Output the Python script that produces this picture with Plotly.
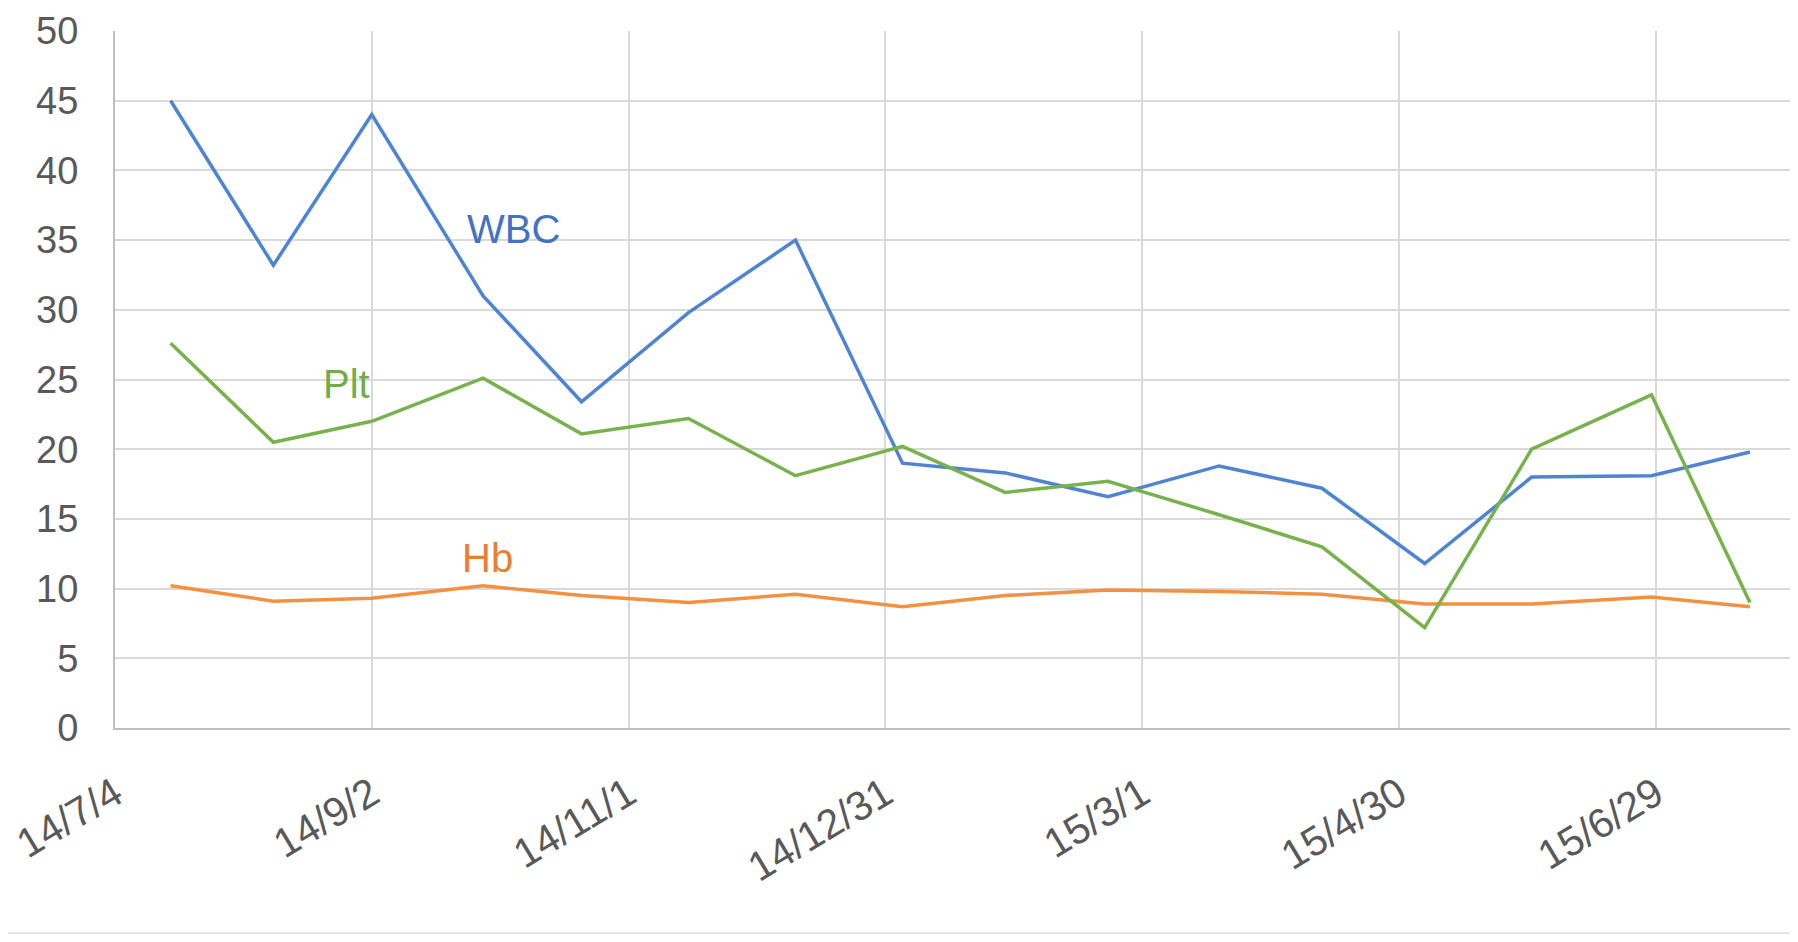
import plotly.graph_objects as go

dates = ["2014-07-17", "2014-08-10", "2014-09-02", "2014-09-28", "2014-10-21",
         "2014-11-15", "2014-12-10", "2015-01-04", "2015-01-28", "2015-02-21",
         "2015-03-19", "2015-04-12", "2015-05-06", "2015-05-31", "2015-06-28",
         "2015-07-21"]
wbc = [45.0, 33.2, 44.0, 31.0, 23.4, 29.8, 35.0, 19.0, 18.3, 16.6, 18.8, 17.2, 11.8, 18.0, 18.1, 19.8]
plt_ = [27.6, 20.5, 22.0, 25.1, 21.1, 22.2, 18.1, 20.2, 16.9, 17.7, 15.3, 13.0, 7.2, 20.0, 23.9, 9.0]
hb = [10.2, 9.1, 9.3, 10.2, 9.5, 9.0, 9.6, 8.7, 9.5, 9.9, 9.8, 9.6, 8.9, 8.9, 9.4, 8.7]

tick_dates = ["2014-07-04", "2014-09-02", "2014-11-01", "2014-12-31",
              "2015-03-01", "2015-04-30", "2015-06-29"]
tick_labels = ["14/7/4", "14/9/2", "14/11/1", "14/12/31", "15/3/1", "15/4/30", "15/6/29"]
y_ticks = [0, 5, 10, 15, 20, 25, 30, 35, 40, 45, 50]

series_labels = [
    ("WBC", "2014-10-05", 35.8, "#4472C4"),
    ("Plt", "2014-08-27", 24.65, "#70AD47"),
    ("Hb", "2014-09-29", 12.2, "#ED7D31"),
]

FONT = "Liberation Sans, Arial, sans-serif"

fig = go.Figure()
fig.add_trace(go.Scatter(x=dates, y=wbc, mode="lines", name="WBC",
                         line=dict(color="#4E84D2", width=3.5)))
fig.add_trace(go.Scatter(x=dates, y=hb, mode="lines", name="Hb",
                         line=dict(color="#F39141", width=3.5)))
fig.add_trace(go.Scatter(x=dates, y=plt_, mode="lines", name="Plt",
                         line=dict(color="#77B24C", width=3.5)))

for text, xd, yv, col in series_labels:
    fig.add_annotation(x=xd, y=yv, xref="x", yref="y", text=text, showarrow=False,
                       font=dict(family=FONT, size=40, color=col))

fig.add_shape(type="line", xref="paper", yref="paper", x0=-0.1, x1=1.0,
              y0=-0.2945, y1=-0.2945, line=dict(color="#E3E3E3", width=2))

fig.update_layout(
    width=1789, height=926,
    margin=dict(l=107, r=0, t=23, b=206, pad=0),
    paper_bgcolor="white", plot_bgcolor="white",
    showlegend=False,
    font=dict(family=FONT, color="#595959"),
    xaxis=dict(
        type="date",
        range=["2014-07-04", "2015-08-01"],
        tickmode="array", tickvals=tick_dates, ticktext=tick_labels,
        tickangle=-31, tickfont=dict(family=FONT, size=41, color="#595959"),
        showgrid=True, gridcolor="#D9D9D9", gridwidth=1.5,
        showline=True, linecolor="#BFBFBF", linewidth=2,
        ticks="", ticklabelstandoff=24, automargin=False, zeroline=False,
        ticklabeloverflow="allow",
    ),
    yaxis=dict(
        range=[0, 50], tickmode="array", tickvals=y_ticks,
        tickfont=dict(family=FONT, size=38, color="#595959"),
        showgrid=True, gridcolor="#D9D9D9", gridwidth=1.5,
        showline=True, linecolor="#BFBFBF", linewidth=2,
        ticks="", ticklabelstandoff=27, automargin=False, zeroline=False,
        ticklabeloverflow="allow",
    ),
)

fig.write_html("out.html")
